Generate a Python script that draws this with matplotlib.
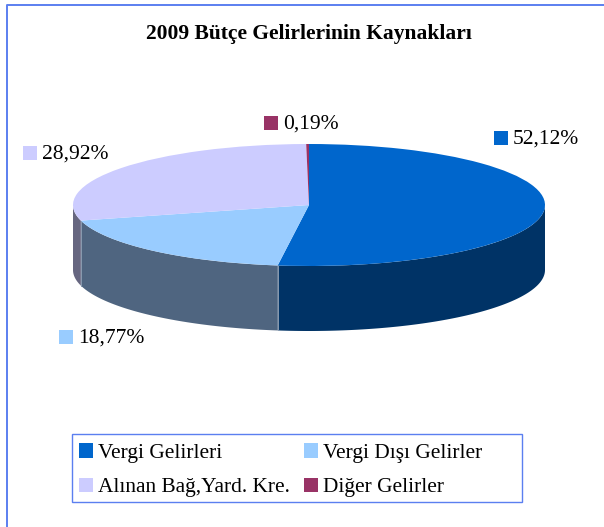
import numpy as np
import matplotlib
matplotlib.use("Agg")
import matplotlib.pyplot as plt
from matplotlib.patches import Rectangle, Polygon
from matplotlib.transforms import Affine2D

categories = ["Vergi Gelirleri", "Vergi Dışı Gelirler", "Alınan Bağ,Yard. Kre.", "Diğer Gelirler"]
values = [52.12, 18.77, 28.92, 0.19]
value_labels = ["52,12%", "18,77%", "28,92%", "0,19%"]
top_colors = ["#0066CC", "#99CCFF", "#CCCCFF", "#993366"]
side_colors = ["#003366", "#4F6580", "#666680", "#4D1A33"]
title = "2009 Bütçe Gelirlerinin Kaynakları"

W, H = 604, 527
plt.rcParams["font.family"] = ["Liberation Serif", "DejaVu Serif"]
fig = plt.figure(figsize=(W / 100, H / 100), dpi=100)
ax = fig.add_axes([0, 0, 1, 1])

CX, CY, RX, RY, DEPTH = 309, 205, 236, 61, 65
px = Affine2D().scale(1, -1).translate(0, H)  # image pixels -> display

wedges, _ = ax.pie(values, colors=top_colors, startangle=90, counterclock=False,
                   radius=1, center=(0, 0), wedgeprops=dict(linewidth=0, zorder=3))
ax.set_aspect("auto")
ax.set_xlim(-CX / RX, (W - CX) / RX)
ax.set_ylim((CY - H) / RY, CY / RY)
ax.axis("off")

# side wall built from the same values
edges = np.concatenate([[0], np.cumsum(values)]) / sum(values) * 360
d = DEPTH / RY
for i, col in enumerate(side_colors):
    a0, a1 = max(edges[i], 90), min(edges[i + 1], 270)
    if a1 <= a0:
        continue
    t = np.radians(np.linspace(a0, a1, 100))
    x, y = np.sin(t), np.cos(t)
    pts = np.vstack([np.c_[x, y], np.c_[x[::-1], y[::-1] - d]])
    ax.add_patch(Polygon(pts, closed=True, fc=col, ec="none", zorder=1))
    if a0 > 90:
        ax.plot([x[0], x[0]], [y[0], y[0] - d], color="#8A9BB0", lw=0.7, zorder=2)

# outer frame
ax.add_artist(plt.Line2D([6.5, 6.5, W], [H, 5, 5], transform=px, color="#5B7FF0", lw=1.4))

fig.text(308.5 / W, 1 - 34 / H, title, ha="center", va="center", fontsize=15.5, fontweight="bold", color="black")

# data labels
label_pos = [(494, 138), (59, 337), (23, 153), (264, 123)]
for (lx, ly), lab, col in zip(label_pos, value_labels, top_colors):
    ax.add_patch(Rectangle((lx, ly - 7), 14, 14, fc=col, ec="none", transform=px, zorder=5))
    ax.text(lx + 19, ly + 1, lab, transform=px, fontsize=15.5, ha="left", va="center", color="black", zorder=5)

# legend box
ax.add_patch(Rectangle((71.5, 433.5), 450, 68, fc="white", ec="#5B7FF0", lw=1.0, transform=px, zorder=4))

# legend (row-first order)
order = [0, 2, 1, 3]
leg = fig.legend([wedges[i] for i in order], [categories[i] for i in order], ncol=2,
                 loc="upper left", bbox_to_anchor=(71.5 / W, 1 - 435.5 / H),
                 fontsize=15.4, frameon=False,
                 handlelength=0.66, handleheight=0.66, handletextpad=0.24,
                 columnspacing=0.65, labelspacing=0.69, borderpad=0.36, borderaxespad=0)

fig.savefig("out.png", dpi=100, facecolor="white")
